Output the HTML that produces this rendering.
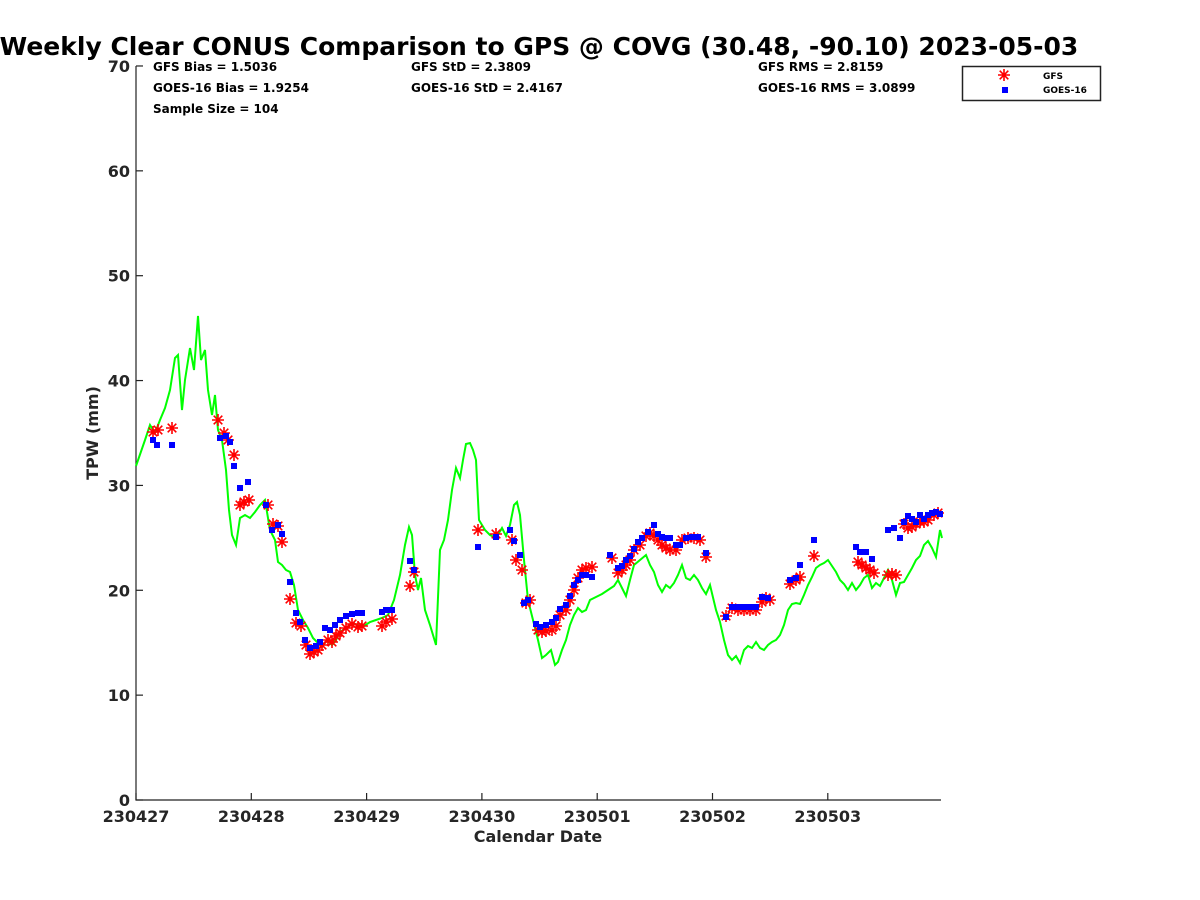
<!DOCTYPE html>
<html><head><meta charset="utf-8"><style>
html,body{margin:0;padding:0;background:#fff;}
svg{display:block;font-family:"DejaVu Sans","Liberation Sans",sans-serif;font-weight:bold;}
</style></head><body>
<svg id="s" width="1200" height="900" viewBox="0 0 1200 900" xmlns="http://www.w3.org/2000/svg">
<defs>
<g id="st"><path d="M-6,0H6M0,-6V6M-4.3,-4.3L4.3,4.3M-4.3,4.3L4.3,-4.3" stroke="#f00" stroke-width="1.6" fill="none"/></g>
<rect id="sq" x="-3" y="-3" width="6" height="6" fill="#00f"/>
</defs>
<text x="539" y="55" font-size="25" text-anchor="middle">Weekly Clear CONUS Comparison to GPS @ COVG (30.48, -90.10) 2023-05-03</text>
<g font-size="12">
<text x="153" y="71">GFS Bias = 1.5036</text>
<text x="153" y="92">GOES-16 Bias = 1.9254</text>
<text x="153" y="113">Sample Size = 104</text>
<text x="411" y="71">GFS StD = 2.3809</text>
<text x="411" y="92">GOES-16 StD = 2.4167</text>
<text x="758" y="71">GFS RMS = 2.8159</text>
<text x="758" y="92">GOES-16 RMS = 3.0899</text>
</g>
<rect x="962.5" y="66.5" width="138" height="34" fill="#fff" stroke="#222" stroke-width="1.5"/>
<use href="#st" x="1004" y="75"/><use href="#sq" x="1005" y="90"/>
<text x="1043" y="79" font-size="9">GFS</text><text x="1043" y="93" font-size="9">GOES-16</text>
<g stroke="#222" stroke-width="1.2" fill="none">
<path d="M136,66V800H941"/>
</g>
<g id="ticks" stroke="#222" stroke-width="1.2"></g>
<g id="lab" font-size="16" fill="#262626"></g>
<text x="538" y="842" font-size="16" text-anchor="middle" fill="#262626">Calendar Date</text>
<text transform="translate(98,433) rotate(-90)" font-size="16" text-anchor="middle" fill="#262626">TPW (mm)</text>
<polyline id="gl" fill="none" stroke="#0f0" stroke-width="2"/>
<g id="mk"></g>
</svg>
<script>
var ns="http://www.w3.org/2000/svg",T=document.getElementById('ticks'),L=document.getElementById('lab');
function el(p,n,a,t){var e=document.createElementNS(ns,n);for(var k in a)e.setAttribute(k,a[k]);if(t)e.textContent=t;p.appendChild(e);return e;}
for(var i=0;i<=7;i++){var y=800-i*104.86;el(T,'line',{x1:136,x2:143,y1:y,y2:y});el(L,'text',{x:130,y:y+6,'text-anchor':'end'},String(i*10));}
var d=['230427','230428','230429','230430','230501','230502','230503'];
for(var i=0;i<7;i++){var x=136+i*115.3;el(T,'line',{x1:x,x2:x,y1:800,y2:793});el(L,'text',{x:x,y:822,'text-anchor':'middle'},d[i]);}
var g=[136,466,145,440,150,425,155,433,160,420,165,408,170,390,175,358,178,355,182,410,185,380,190,348,194,370,198,316,201,360,205,350,208,390,212,415,215,395,218,430,222,440,226,470,229,510,232,535,236,545,240,518,245,515,250,518,255,512,260,505,265,500,270,530,275,540,278,562,282,565,286,570,290,572,294,585,298,610,303,620,308,628,313,638,318,643,322,647,327,640,332,645,336,640,340,632,346,628,352,623,358,625,364,626,370,622,376,620,382,618,388,615,394,600,400,575,405,545,409,527,412,535,415,575,418,590,421,578,425,610,430,625,436,645,440,550,444,540,448,520,452,490,456,468,460,478,463,460,466,444,470,443,473,450,476,460,479,520,485,530,490,535,496,538,502,528,506,536,510,525,514,505,517,502,520,515,524,560,528,600,533,620,538,640,542,658,546,655,551,650,555,665,558,662,562,650,566,640,570,625,574,615,578,608,582,612,586,610,590,600,596,597,602,594,608,590,614,586,618,580,622,588,626,596,630,580,634,565,640,560,646,555,650,565,654,572,658,585,662,592,666,585,670,588,674,583,678,575,682,565,686,578,690,580,694,575,698,580,702,588,706,594,710,585,716,610,720,622,724,640,728,655,732,660,736,656,740,663,744,650,748,646,752,648,756,642,760,648,764,650,768,645,772,642,776,640,780,635,784,625,788,610,792,604,796,603,800,604,804,595,808,585,812,577,816,568,820,565,824,563,828,560,832,566,836,572,840,580,844,584,848,590,852,583,856,590,860,585,864,578,868,575,872,588,876,583,880,586,884,578,888,570,892,580,896,595,900,583,904,582,908,575,912,568,916,560,920,556,924,545,928,541,932,548,936,557,940,530,942,538];
var pts=[];for(var i=0;i<g.length;i+=2)pts.push(g[i]+','+g[i+1]);document.getElementById('gl').setAttribute('points',pts.join(' '));
var M=document.getElementById('mk');
var b=[153,440,157,445,172,445,220,438,226,436,230,442,234,466,240,488,248,482,266,505,272,530,278,525,282,534,290,582,296,613,300,622,305,640,310,648,316,646,320,642,325,628,330,630,335,625,340,620,346,616,352,614,358,613,362,613,382,612,386,610,392,610,410,561,414,570,478,547,496,537,510,530,514,541,520,555,524,603,528,600,536,624,540,627,546,625,552,622,556,618,560,609,566,605,570,596,574,585,578,580,582,575,586,575,592,577,610,555,618,568,622,566,626,560,630,556,634,549,638,542,642,538,648,532,654,525,658,534,662,537,666,538,670,538,676,545,680,545,686,538,692,537,698,537,706,553,726,617,732,607,738,607,744,607,750,607,756,607,762,597,768,598,790,580,796,578,800,565,814,540,856,547,860,552,866,552,872,559,888,530,894,528,900,538,904,522,908,516,912,519,916,522,920,515,924,519,928,515,932,513,936,512,940,514];
var r=[153,432,158,430,172,428,218,420,224,433,228,440,234,455,240,505,244,502,249,500,268,505,273,524,278,526,282,542,290,599,296,623,301,626,306,645,310,654,314,652,318,650,322,645,328,640,332,642,336,636,340,633,346,628,352,624,358,627,362,626,382,626,386,622,392,619,410,586,414,572,478,530,496,534,512,540,516,560,522,570,526,603,530,600,538,630,542,632,546,631,552,630,556,626,560,615,566,610,570,600,574,590,578,578,582,570,586,568,592,567,612,558,618,573,622,570,626,565,630,560,634,550,640,545,646,536,650,533,654,536,658,540,662,545,666,548,670,550,676,550,682,540,688,538,694,538,700,540,706,557,726,616,732,608,738,610,744,610,750,610,756,610,762,602,766,598,770,600,790,584,796,580,800,577,814,556,858,562,862,565,866,568,870,570,874,573,888,575,892,574,896,575,904,524,908,528,912,527,916,524,920,522,924,522,928,520,934,515,938,513];
for(var i=0;i<r.length;i+=2)el(M,'use',{href:'#st',x:r[i],y:r[i+1]});
for(var i=0;i<b.length;i+=2)el(M,'use',{href:'#sq',x:b[i],y:b[i+1]});
</script>
</body></html>
